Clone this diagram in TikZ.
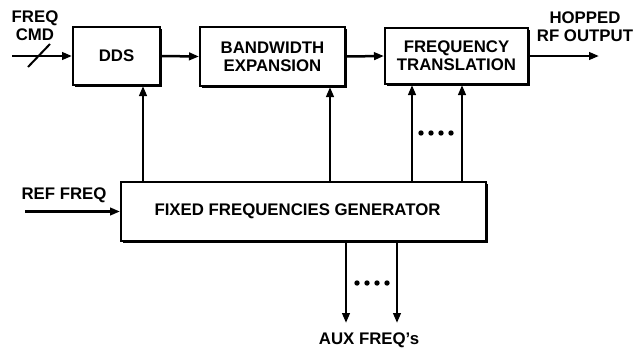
\documentclass[tikz,border=0pt]{standalone}
\usepackage{fontspec}
\setmainfont{Liberation Sans}
\usetikzlibrary{arrows.meta,shadows}
\begin{document}
\begin{tikzpicture}[x=1pt,y=-1pt,
  every node/.style={font=\fontsize{16.8}{18}\selectfont\bfseries, inner sep=0pt},
  blk/.style={draw, line width=2pt, fill=white, align=center,
    drop shadow={shadow xshift=2pt, shadow yshift=-2pt, fill=black, opacity=1}},
  lbl/.style={align=center},
  arr/.style={line width=2.5pt, -{Triangle[length=10pt,width=7.5pt]}},
  dotc/.style={fill=black}
]
\useasboundingbox (0,0) rectangle (639,348);
\fill[white] (0,0) rectangle (639,348);

% blocks
\node[blk, minimum width=87pt, minimum height=58pt] (dds) at (116.5,56) {DDS};
\node[blk, minimum width=145pt, minimum height=59pt] (bw) at (272.5,56.5) {BANDWIDTH\\EXPANSION};
\node[blk, minimum width=143pt, minimum height=56pt] (ft) at (456.5,56) {FREQUENCY\\TRANSLATION};
\node[blk, minimum width=365pt, minimum height=59pt] (ffg) at (303.5,211.5) {\hspace*{-12pt}FIXED FREQUENCIES GENERATOR};

% labels
\node[lbl] (freqcmd) at (35,26) {FREQ\\CMD};
\node[lbl] (hopped) at (585,27) {HOPPED\\RF OUTPUT};
\node[lbl] (reffreq) at (64,195) {REF FREQ};
\node[lbl] (aux) at (369,340) {AUX FREQ's};

% free ends
\coordinate (in) at (12,56);
\coordinate (refin) at (25,211.5);
\coordinate (out) at (599,56);
\coordinate (aux1) at (346,323);
\coordinate (aux2) at (397,323);
\coordinate (xa) at (143,0);
\coordinate (xb) at (330,0);
\coordinate (xc) at (412,0);
\coordinate (xd) at (462,0);

% connectors
\draw[arr] (in) -- (dds.west);
\draw[line width=2pt] (28,67) -- (50,44);
\draw[arr] (dds.east) -- (bw.west);
\draw[arr] (bw.east) -- (ft.west);
\draw[arr] (ft.east) -- (out);
\draw[arr] (refin) -- (ffg.west);
\draw[arr] (ffg.north -| xa) -- (dds.south -| xa);
\draw[arr] (ffg.north -| xb) -- (bw.south -| xb);
\draw[arr] (ffg.north -| xc) -- (ft.south -| xc);
\draw[arr] (ffg.north -| xd) -- (ft.south -| xd);
\draw[arr] (ffg.south -| aux1) -- (aux1);
\draw[arr] (ffg.south -| aux2) -- (aux2);

% dots
\foreach \x in {421,431,441,451} \fill (\x,133) circle (2.7pt);
\foreach \x in {357,367,377,387} \fill (\x,283) circle (2.7pt);
\end{tikzpicture}
\end{document}
